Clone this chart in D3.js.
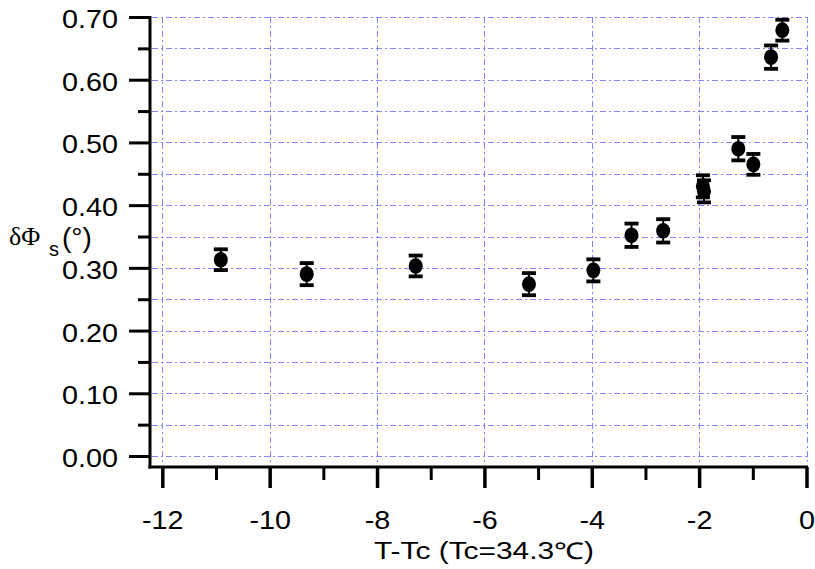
<!DOCTYPE html>
<html>
<head>
<meta charset="utf-8">
<script src="https://cdn.jsdelivr.net/npm/d3@7/dist/d3.min.js"></script>
<style>
body { margin: 0; background: #fff; }
svg { display: block; }
text { font-family: "Liberation Sans", Arial, sans-serif; fill: #000; }
</style>
</head>
<body>
<svg id="chart" width="815" height="569"></svg>
<script>
// Data
const tempDiff = [-10.91, -9.31, -7.28, -5.17, -3.97, -3.26, -2.67, -1.93, -1.91, -1.27, -0.99, -0.66, -0.45];
const deltaPhi = [0.313, 0.290, 0.303, 0.274, 0.296, 0.352, 0.359, 0.430, 0.422, 0.490, 0.465, 0.636, 0.679];
const errBar   = [0.019, 0.020, 0.019, 0.020, 0.020, 0.021, 0.021, 0.020, 0.020, 0.021, 0.019, 0.021, 0.019];
const xMajorTicks = [-12, -10, -8, -6, -4, -2, 0];
const xMinorTicks = [-11, -9, -7, -5, -3, -1];
const yMajorTicks = [0.0, 0.1, 0.2, 0.3, 0.4, 0.5, 0.6, 0.7];
const yMinorTicks = [0.05, 0.15, 0.25, 0.35, 0.45, 0.55, 0.65];
const xTitle = "T-Tc (Tc=34.3\u2103)";

const svg = d3.select("#chart");
const x = d3.scaleLinear().domain([-12, 0]).range([162.3, 806.5]);
const y = d3.scaleLinear().domain([0, 0.7]).range([456, 17]);
const axisX = 150, axisY = 467;
const gridColor = "#6f6fff";
const sx = 1.15; // horizontal stretch of the reference's tick font

// grid
const grid = svg.append("g").attr("stroke", gridColor).attr("stroke-width", 1)
  .attr("stroke-dasharray", "6,3,2,3").attr("opacity", 0.85);
grid.selectAll("line.h").data(yMajorTicks.concat(yMinorTicks)).join("line")
  .attr("class", "h")
  .attr("x1", axisX + 2).attr("x2", 808)
  .attr("y1", d => Math.round(y(d)) + 0.5).attr("y2", d => Math.round(y(d)) + 0.5);
grid.selectAll("line.v").data(xMajorTicks).join("line")
  .attr("class", "v")
  .attr("y1", 17).attr("y2", axisY - 2)
  .attr("x1", d => Math.round(x(d)) + 0.5).attr("x2", d => Math.round(x(d)) + 0.5);

// axes
const fmt = d3.format(".2f");
const yAxis = d3.axisLeft(y).tickValues(yMajorTicks).tickFormat(fmt).tickSize(21).tickPadding(11);
const gy = svg.append("g").attr("transform", `translate(${axisX},0)`).call(yAxis);
gy.select(".domain").remove();
gy.selectAll(".tick line").attr("stroke", "#000").attr("stroke-width", 3);
gy.selectAll(".tick text").attr("font-size", 25).attr("font-family", "Liberation Sans, Arial, sans-serif")
  .attr("dy", "0.42em").attr("x", -32 / sx).attr("transform", `scale(${sx},1)`);
const gyMinor = svg.append("g").attr("transform", `translate(${axisX},0)`)
  .call(d3.axisLeft(y).tickValues(yMinorTicks).tickFormat("").tickSize(12));
gyMinor.select(".domain").remove();
gyMinor.selectAll(".tick line").attr("stroke", "#000").attr("stroke-width", 3);

const xAxis = d3.axisBottom(x).tickValues(xMajorTicks).tickFormat(d => String(d)).tickSize(21).tickPadding(23);
const gx = svg.append("g").attr("transform", `translate(0,${axisY})`).call(xAxis);
gx.select(".domain").remove();
gx.selectAll(".tick line").attr("stroke", "#000").attr("stroke-width", 3.5);
gx.selectAll(".tick text").attr("font-size", 25).attr("font-family", "Liberation Sans, Arial, sans-serif")
  .attr("transform", `scale(${sx},1)`);
const gxMinor = svg.append("g").attr("transform", `translate(0,${axisY})`)
  .call(d3.axisBottom(x).tickValues(xMinorTicks).tickFormat("").tickSize(13));
gxMinor.select(".domain").remove();
gxMinor.selectAll(".tick line").attr("stroke", "#000").attr("stroke-width", 3);

// axis lines
svg.append("line").attr("x1", axisX).attr("x2", axisX).attr("y1", 16).attr("y2", axisY + 1.5)
  .attr("stroke", "#000").attr("stroke-width", 3);
svg.append("line").attr("x1", axisX - 1.5).attr("x2", 808).attr("y1", axisY).attr("y2", axisY)
  .attr("stroke", "#000").attr("stroke-width", 3);

// error bars and points
const data = tempDiff.map((t, i) => ({ t, v: deltaPhi[i], e: errBar[i] }));
const eb = svg.append("g").attr("stroke", "#000");
eb.selectAll("line.stem").data(data).join("line").attr("class", "stem")
  .attr("x1", d => x(d.t)).attr("x2", d => x(d.t))
  .attr("y1", d => y(d.v - d.e)).attr("y2", d => y(d.v + d.e)).attr("stroke-width", 2);
eb.selectAll("line.capT").data(data).join("line").attr("class", "capT")
  .attr("x1", d => x(d.t) - 7).attr("x2", d => x(d.t) + 7)
  .attr("y1", d => y(d.v + d.e) + 1.5).attr("y2", d => y(d.v + d.e) + 1.5).attr("stroke-width", 3.8);
eb.selectAll("line.capB").data(data).join("line").attr("class", "capB")
  .attr("x1", d => x(d.t) - 7).attr("x2", d => x(d.t) + 7)
  .attr("y1", d => y(d.v - d.e) - 1.5).attr("y2", d => y(d.v - d.e) - 1.5).attr("stroke-width", 3.8);
svg.append("g").selectAll("ellipse").data(data).join("ellipse")
  .attr("cx", d => x(d.t)).attr("cy", d => y(d.v))
  .attr("rx", 7).attr("ry", 7.8).attr("fill", "#000");

// titles
svg.append("text").attr("x", 484).attr("y", 559).attr("text-anchor", "middle")
  .attr("font-size", 23).attr("textLength", 220).attr("lengthAdjust", "spacingAndGlyphs").text(xTitle);
const yl = svg.append("text").attr("font-size", 24);
yl.append("tspan").attr("x", 9).attr("y", 245).attr("font-size", 26)
  .attr("font-family", "Liberation Serif, Times New Roman, serif").text("\u03B4\u03A6");
yl.append("tspan").attr("x", 49).attr("y", 256).attr("font-size", 20).text("s");
yl.append("tspan").attr("x", 62).attr("y", 247).attr("font-size", 28).text("(\u00B0)");
</script>
</body>
</html>
